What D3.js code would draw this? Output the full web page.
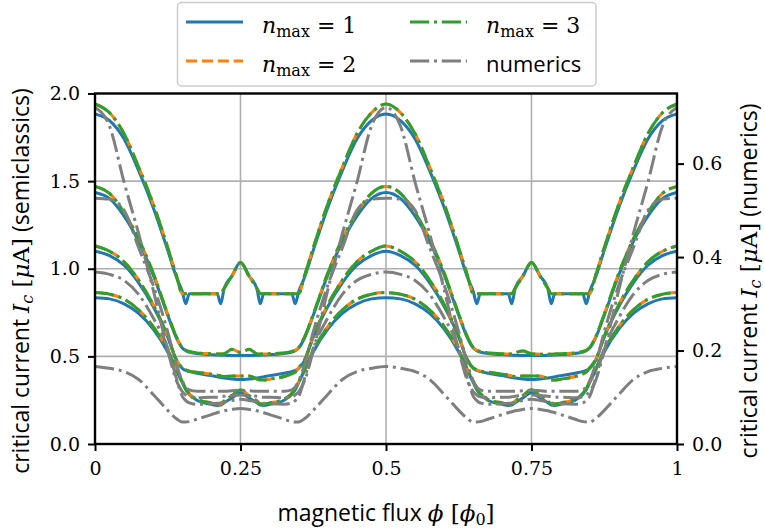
<!DOCTYPE html>
<html>
<head>
<meta charset="utf-8">
<script src="https://cdn.jsdelivr.net/npm/d3@7"></script>
<style>
  body { margin: 0; background: #fff; }
  svg { display: block; }
</style>
</head>
<body>
<svg id="chart" width="765" height="531"></svg>
<script>
// flux grid (units of phi_0)
const phi = [
  0, 0.025, 0.05, 0.075, 0.1, 0.125, 0.14, 0.15, 0.156, 0.162, 0.175, 0.2, 0.21, 0.216, 0.222, 0.235, 0.25,
  0.265, 0.278, 0.284, 0.29, 0.3, 0.325, 0.338, 0.344, 0.35, 0.36, 0.375, 0.4, 0.425, 0.45, 0.475, 0.5,
  0.525, 0.55, 0.575, 0.6, 0.625, 0.64, 0.65, 0.656, 0.662, 0.675, 0.7, 0.71, 0.716, 0.722, 0.735, 0.75,
  0.765, 0.778, 0.784, 0.79, 0.8, 0.825, 0.838, 0.844, 0.85, 0.86, 0.875, 0.9, 0.925, 0.95, 0.975, 1
];

// semiclassical critical current [uA], four junction settings, truncation n_max = 1, 2, 3
const curveA1 = [
  1.883, 1.845, 1.74, 1.56, 1.35, 1.105, 0.95, 0.87, 0.80, 0.858, 0.858, 0.858, 0.858, 0.80, 0.889, 0.957, 1.035,
  0.957, 0.889, 0.80, 0.858, 0.858, 0.858, 0.858, 0.80, 0.87, 0.95, 1.105, 1.35, 1.56, 1.74, 1.845, 1.883,
  1.845, 1.74, 1.56, 1.35, 1.105, 0.95, 0.87, 0.80, 0.858, 0.858, 0.858, 0.858, 0.80, 0.889, 0.957, 1.035,
  0.957, 0.889, 0.80, 0.858, 0.858, 0.858, 0.858, 0.80, 0.87, 0.95, 1.105, 1.35, 1.56, 1.74, 1.845, 1.883
];
const curveA2 = [
  1.94, 1.89, 1.77, 1.58, 1.37, 1.12, 0.96, 0.858, 0.858, 0.858, 0.858, 0.858, 0.858, 0.858, 0.889, 0.957, 1.035,
  0.957, 0.889, 0.858, 0.858, 0.858, 0.858, 0.858, 0.858, 0.858, 0.96, 1.12, 1.37, 1.58, 1.77, 1.89, 1.94,
  1.89, 1.77, 1.58, 1.37, 1.12, 0.96, 0.858, 0.858, 0.858, 0.858, 0.858, 0.858, 0.858, 0.889, 0.957, 1.035,
  0.957, 0.889, 0.858, 0.858, 0.858, 0.858, 0.858, 0.858, 0.858, 0.96, 1.12, 1.37, 1.58, 1.77, 1.89, 1.94
];
const curveA3 = [
  1.94, 1.89, 1.77, 1.58, 1.37, 1.12, 0.96, 0.858, 0.858, 0.858, 0.858, 0.858, 0.858, 0.858, 0.889, 0.957, 1.035,
  0.957, 0.889, 0.858, 0.858, 0.858, 0.858, 0.858, 0.858, 0.858, 0.96, 1.12, 1.37, 1.58, 1.77, 1.89, 1.94,
  1.89, 1.77, 1.58, 1.37, 1.12, 0.96, 0.858, 0.858, 0.858, 0.858, 0.858, 0.858, 0.858, 0.889, 0.957, 1.035,
  0.957, 0.889, 0.858, 0.858, 0.858, 0.858, 0.858, 0.858, 0.858, 0.96, 1.12, 1.37, 1.58, 1.77, 1.89, 1.94
];
const curveB1 = [
  1.435, 1.40, 1.30, 1.155, 0.965, 0.735, 0.605, 0.548, 0.532, 0.524, 0.516, 0.51, 0.508, 0.507, 0.506, 0.505, 0.505,
  0.505, 0.506, 0.507, 0.508, 0.51, 0.516, 0.524, 0.532, 0.548, 0.605, 0.735, 0.965, 1.155, 1.30, 1.40, 1.435,
  1.40, 1.30, 1.155, 0.965, 0.735, 0.605, 0.548, 0.532, 0.524, 0.516, 0.51, 0.508, 0.507, 0.506, 0.505, 0.505,
  0.505, 0.506, 0.507, 0.508, 0.51, 0.516, 0.524, 0.532, 0.548, 0.605, 0.735, 0.965, 1.155, 1.30, 1.40, 1.435
];
const curveB2 = [
  1.47, 1.43, 1.32, 1.17, 0.975, 0.74, 0.61, 0.55, 0.535, 0.528, 0.52, 0.515, 0.513, 0.513, 0.515, 0.54, 0.522,
  0.54, 0.515, 0.513, 0.513, 0.515, 0.52, 0.528, 0.535, 0.55, 0.61, 0.74, 0.975, 1.17, 1.32, 1.43, 1.47,
  1.43, 1.32, 1.17, 0.975, 0.74, 0.61, 0.55, 0.535, 0.528, 0.52, 0.515, 0.513, 0.513, 0.52, 0.53, 0.515,
  0.512, 0.512, 0.512, 0.513, 0.515, 0.52, 0.528, 0.535, 0.55, 0.61, 0.74, 0.975, 1.17, 1.32, 1.43, 1.47
];
const curveB3 = [
  1.47, 1.43, 1.32, 1.17, 0.975, 0.74, 0.61, 0.55, 0.535, 0.528, 0.52, 0.515, 0.513, 0.513, 0.515, 0.54, 0.522,
  0.54, 0.515, 0.513, 0.513, 0.515, 0.52, 0.528, 0.535, 0.55, 0.61, 0.74, 0.975, 1.17, 1.32, 1.43, 1.47,
  1.43, 1.32, 1.17, 0.975, 0.74, 0.61, 0.55, 0.535, 0.528, 0.52, 0.515, 0.513, 0.513, 0.52, 0.53, 0.515,
  0.512, 0.512, 0.512, 0.513, 0.515, 0.52, 0.528, 0.535, 0.55, 0.61, 0.74, 0.975, 1.17, 1.32, 1.43, 1.47
];
const curveC1 = [
  1.10, 1.075, 1.02, 0.92, 0.785, 0.61, 0.475, 0.432, 0.42, 0.413, 0.404, 0.39, 0.383, 0.379, 0.376, 0.371, 0.368,
  0.371, 0.376, 0.379, 0.383, 0.39, 0.404, 0.413, 0.42, 0.432, 0.475, 0.61, 0.785, 0.92, 1.02, 1.075, 1.10,
  1.075, 1.02, 0.92, 0.785, 0.61, 0.475, 0.432, 0.42, 0.413, 0.404, 0.39, 0.383, 0.379, 0.376, 0.371, 0.368,
  0.371, 0.376, 0.379, 0.383, 0.39, 0.404, 0.413, 0.42, 0.432, 0.475, 0.61, 0.785, 0.92, 1.02, 1.075, 1.10
];
const curveC2 = [
  1.13, 1.10, 1.04, 0.935, 0.795, 0.615, 0.48, 0.435, 0.423, 0.416, 0.41, 0.398, 0.393, 0.388, 0.385, 0.388, 0.388,
  0.388, 0.372, 0.365, 0.365, 0.37, 0.385, 0.40, 0.41, 0.435, 0.48, 0.615, 0.795, 0.935, 1.04, 1.10, 1.13,
  1.10, 1.04, 0.935, 0.795, 0.615, 0.48, 0.435, 0.423, 0.416, 0.41, 0.398, 0.393, 0.388, 0.385, 0.388, 0.388,
  0.388, 0.372, 0.365, 0.365, 0.37, 0.385, 0.40, 0.41, 0.435, 0.48, 0.615, 0.795, 0.935, 1.04, 1.10, 1.13
];
const curveC3 = [
  1.13, 1.10, 1.04, 0.935, 0.795, 0.615, 0.48, 0.435, 0.423, 0.416, 0.41, 0.398, 0.393, 0.388, 0.385, 0.388, 0.388,
  0.388, 0.372, 0.365, 0.365, 0.37, 0.385, 0.40, 0.41, 0.435, 0.48, 0.615, 0.795, 0.935, 1.04, 1.10, 1.13,
  1.10, 1.04, 0.935, 0.795, 0.615, 0.48, 0.435, 0.423, 0.416, 0.41, 0.398, 0.393, 0.388, 0.385, 0.388, 0.388,
  0.388, 0.372, 0.365, 0.365, 0.37, 0.385, 0.40, 0.41, 0.435, 0.48, 0.615, 0.795, 0.935, 1.04, 1.10, 1.13
];
const curveD1 = [
  0.835, 0.828, 0.80, 0.745, 0.655, 0.525, 0.42, 0.35, 0.31, 0.283, 0.25, 0.226, 0.22, 0.222, 0.235, 0.262, 0.292,
  0.262, 0.235, 0.222, 0.22, 0.226, 0.25, 0.283, 0.31, 0.35, 0.42, 0.525, 0.655, 0.745, 0.80, 0.828, 0.835,
  0.828, 0.80, 0.745, 0.655, 0.525, 0.42, 0.35, 0.31, 0.283, 0.25, 0.226, 0.22, 0.222, 0.235, 0.262, 0.292,
  0.262, 0.235, 0.222, 0.22, 0.226, 0.25, 0.283, 0.31, 0.35, 0.42, 0.525, 0.655, 0.745, 0.80, 0.828, 0.835
];
const curveD2 = [
  0.864, 0.855, 0.826, 0.765, 0.67, 0.535, 0.425, 0.355, 0.315, 0.288, 0.255, 0.234, 0.228, 0.229, 0.245, 0.275, 0.31,
  0.275, 0.245, 0.229, 0.228, 0.234, 0.255, 0.288, 0.315, 0.355, 0.425, 0.535, 0.67, 0.765, 0.826, 0.855, 0.864,
  0.855, 0.826, 0.765, 0.67, 0.535, 0.425, 0.355, 0.315, 0.288, 0.255, 0.234, 0.228, 0.229, 0.245, 0.275, 0.31,
  0.275, 0.245, 0.229, 0.228, 0.234, 0.255, 0.288, 0.315, 0.355, 0.425, 0.535, 0.67, 0.765, 0.826, 0.855, 0.864
];
const curveD3 = [
  0.864, 0.855, 0.826, 0.765, 0.67, 0.535, 0.425, 0.355, 0.315, 0.288, 0.255, 0.234, 0.228, 0.229, 0.245, 0.275, 0.31,
  0.275, 0.245, 0.229, 0.228, 0.234, 0.255, 0.288, 0.315, 0.355, 0.425, 0.535, 0.67, 0.765, 0.826, 0.855, 0.864,
  0.855, 0.826, 0.765, 0.67, 0.535, 0.425, 0.355, 0.315, 0.288, 0.255, 0.234, 0.228, 0.229, 0.245, 0.275, 0.31,
  0.275, 0.245, 0.229, 0.228, 0.234, 0.255, 0.288, 0.315, 0.355, 0.425, 0.535, 0.67, 0.765, 0.826, 0.855, 0.864
];

// numerical critical current [uA] for the same four settings (right axis)
const numA = [
  0.72, 0.68, 0.56, 0.45, 0.33, 0.2, 0.135, 0.112, 0.105, 0.101, 0.099, 0.1, 0.1, 0.101, 0.102, 0.104, 0.105,
  0.104, 0.102, 0.101, 0.1, 0.1, 0.099, 0.101, 0.105, 0.112, 0.135, 0.2, 0.33, 0.45, 0.56, 0.68, 0.72,
  0.68, 0.56, 0.45, 0.33, 0.2, 0.135, 0.112, 0.105, 0.101, 0.099, 0.1, 0.1, 0.101, 0.102, 0.104, 0.105,
  0.104, 0.102, 0.101, 0.1, 0.1, 0.099, 0.101, 0.105, 0.112, 0.135, 0.2, 0.33, 0.45, 0.56, 0.68, 0.72
];
const numB = [
  0.526, 0.524, 0.5, 0.42, 0.34, 0.24, 0.17, 0.135, 0.122, 0.116, 0.113, 0.113, 0.113, 0.113, 0.113, 0.114, 0.115,
  0.114, 0.113, 0.113, 0.113, 0.113, 0.113, 0.116, 0.122, 0.135, 0.17, 0.24, 0.34, 0.42, 0.5, 0.524, 0.526,
  0.524, 0.5, 0.42, 0.34, 0.24, 0.17, 0.135, 0.122, 0.116, 0.113, 0.113, 0.113, 0.113, 0.113, 0.114, 0.115,
  0.114, 0.113, 0.113, 0.113, 0.113, 0.113, 0.116, 0.122, 0.135, 0.17, 0.24, 0.34, 0.42, 0.5, 0.524, 0.526
];
const numC = [
  0.368, 0.363, 0.35, 0.32, 0.27, 0.205, 0.14, 0.102, 0.093, 0.088, 0.085, 0.086, 0.087, 0.088, 0.09, 0.093, 0.096,
  0.093, 0.09, 0.088, 0.087, 0.086, 0.085, 0.088, 0.093, 0.102, 0.14, 0.205, 0.27, 0.32, 0.35, 0.363, 0.368,
  0.363, 0.35, 0.32, 0.27, 0.205, 0.14, 0.102, 0.093, 0.088, 0.085, 0.086, 0.087, 0.088, 0.09, 0.093, 0.096,
  0.093, 0.09, 0.088, 0.087, 0.086, 0.085, 0.088, 0.093, 0.102, 0.14, 0.205, 0.27, 0.32, 0.35, 0.363, 0.368
];
const numD = [
  0.166, 0.162, 0.155, 0.138, 0.106, 0.072, 0.054, 0.047, 0.047, 0.048, 0.053, 0.063, 0.067, 0.069, 0.071, 0.074, 0.076,
  0.074, 0.071, 0.069, 0.067, 0.063, 0.053, 0.048, 0.047, 0.047, 0.054, 0.072, 0.106, 0.138, 0.155, 0.162, 0.166,
  0.162, 0.155, 0.138, 0.106, 0.072, 0.054, 0.047, 0.047, 0.048, 0.053, 0.063, 0.067, 0.069, 0.071, 0.074, 0.076,
  0.074, 0.071, 0.069, 0.067, 0.063, 0.053, 0.048, 0.047, 0.047, 0.054, 0.072, 0.106, 0.138, 0.155, 0.162, 0.166
];

const xTicks = [0, 0.25, 0.5, 0.75, 1];
const xTickLabels = ["0", "0.25", "0.5", "0.75", "1"];
const yLeftTicks = [0, 0.5, 1.0, 1.5, 2.0];
const yRightTicks = [0, 0.2, 0.4, 0.6];

const colors = { n1: "#1f77b4", n2: "#ff7f0e", n3: "#2ca02c", num: "#7f7f7f" };
const LW = 3;
const dashed = `${3.7 * LW},${1.6 * LW}`;
const dashdot = `${6.4 * LW},${1.6 * LW},${1 * LW},${1.6 * LW}`;

const svg = d3.select("#chart");
const plotLeft = 95, plotRight = 677, plotTop = 93.5, plotBottom = 444;

const x = d3.scaleLinear().domain([0, 1]).range([plotLeft, plotRight]);
const yL = d3.scaleLinear().domain([0, 2]).range([plotBottom, plotTop]);
const yR = d3.scaleLinear().domain([0, 0.75]).range([plotBottom, plotTop]);

svg.append("rect").attr("width", 765).attr("height", 531).attr("fill", "#fff");

// grid
const grid = svg.append("g").attr("stroke", "#b0b0b0").attr("stroke-width", 1.6);
xTicks.slice(1, -1).forEach(t => grid.append("line")
  .attr("x1", x(t)).attr("x2", x(t)).attr("y1", plotTop).attr("y2", plotBottom));
yLeftTicks.slice(1, -1).forEach(t => grid.append("line")
  .attr("x1", plotLeft).attr("x2", plotRight).attr("y1", yL(t)).attr("y2", yL(t)));

svg.append("clipPath").attr("id", "plotclip").append("rect")
  .attr("x", plotLeft).attr("y", plotTop).attr("width", plotRight - plotLeft).attr("height", plotBottom - plotTop);

const plot = svg.append("g").attr("clip-path", "url(#plotclip)");

function draw(values, yScale, color, dash) {
  const line = d3.line()
    .x((d, i) => x(phi[i]))
    .y(d => yScale(d))
    .curve(d3.curveMonotoneX);
  plot.append("path")
    .attr("d", line(values))
    .attr("fill", "none")
    .attr("stroke", color)
    .attr("stroke-width", LW)
    .attr("stroke-linejoin", "round")
    .attr("stroke-dasharray", dash);
}

[[curveA1, curveA2, curveA3], [curveB1, curveB2, curveB3],
 [curveC1, curveC2, curveC3], [curveD1, curveD2, curveD3]].forEach(([c1, c2, c3]) => {
  draw(c1, yL, colors.n1, null);
  draw(c2, yL, colors.n2, dashed);
  draw(c3, yL, colors.n3, dashdot);
});
[numA, numB, numC, numD].forEach(v => draw(v, yR, colors.num, dashdot));

// axes
const tickFont = "DejaVu Serif";
function styleAxis(g) {
  g.select(".domain").remove();
  g.selectAll(".tick line").attr("stroke", "#000").attr("stroke-width", 2);
  g.selectAll(".tick text").attr("font-family", tickFont).attr("font-size", 19).attr("fill", "#000");
}
svg.append("g").attr("transform", `translate(0,${plotBottom})`)
  .call(d3.axisBottom(x).tickValues(xTicks).tickFormat((d, i) => xTickLabels[i]).tickSize(7).tickPadding(11))
  .call(styleAxis);
svg.append("g").attr("transform", `translate(${plotLeft},0)`)
  .call(d3.axisLeft(yL).tickValues(yLeftTicks).tickFormat(d3.format(".1f")).tickSize(7).tickPadding(8))
  .call(styleAxis);
svg.append("g").attr("transform", `translate(${plotRight},0)`)
  .call(d3.axisRight(yR).tickValues(yRightTicks).tickFormat(d3.format(".1f")).tickSize(7).tickPadding(8))
  .call(styleAxis);

svg.append("rect").attr("x", plotLeft).attr("y", plotTop)
  .attr("width", plotRight - plotLeft).attr("height", plotBottom - plotTop)
  .attr("fill", "none").attr("stroke", "#000").attr("stroke-width", 2.4);

// axis labels
const sans = "Open Sans";
const mathFont = "DejaVu Serif";
const labelSize = 23, subSize = 16;
function currentLabel(g, tail) {
  g.append("tspan").text("critical current ");
  g.append("tspan").attr("font-family", mathFont).attr("font-style", "italic").text("I");
  g.append("tspan").attr("font-family", mathFont).attr("font-style", "italic")
    .attr("font-size", subSize).attr("dy", 4).text("c");
  g.append("tspan").attr("font-family", mathFont).attr("dy", -4).text(" [");
  g.append("tspan").attr("font-family", mathFont).attr("font-style", "italic").text("μ");
  g.append("tspan").attr("font-family", mathFont).text("A]");
  g.append("tspan").text(" " + tail);
}
svg.append("text")
  .attr("transform", "translate(29,281) rotate(-90)")
  .attr("text-anchor", "middle").attr("font-family", sans).attr("font-size", labelSize)
  .call(currentLabel, "(semiclassics)");
svg.append("text")
  .attr("transform", "translate(757,281) rotate(-90)")
  .attr("text-anchor", "middle").attr("font-family", sans).attr("font-size", labelSize)
  .call(currentLabel, "(numerics)");

const xl = svg.append("text")
  .attr("x", (plotLeft + plotRight) / 2).attr("y", 521)
  .attr("text-anchor", "middle").attr("font-family", sans).attr("font-size", labelSize);
xl.append("tspan").text("magnetic flux ");
xl.append("tspan").attr("font-family", mathFont).attr("font-style", "italic").text("ϕ");
xl.append("tspan").attr("font-family", mathFont).text(" [");
xl.append("tspan").attr("font-family", mathFont).attr("font-style", "italic").text("ϕ");
xl.append("tspan").attr("font-family", mathFont).attr("font-size", subSize).attr("dy", 4).text("0");
xl.append("tspan").attr("font-family", mathFont).attr("dy", -4).text("]");

// legend
const legendSize = 22;
const legend = svg.append("g");
legend.append("rect").attr("x", 177.5).attr("y", 2.5).attr("width", 418.5).attr("height", 83.5)
  .attr("rx", 4).attr("fill", "#fff").attr("fill-opacity", 0.8)
  .attr("stroke", "#cccccc").attr("stroke-width", 1.5);

const legendItems = [
  { color: colors.n1, dash: null, label: "1", x: 186, y: 22 },
  { color: colors.n2, dash: dashed, label: "2", x: 186, y: 61 },
  { color: colors.n3, dash: dashdot, label: "3", x: 410, y: 22 },
  { color: colors.num, dash: dashdot, label: null, x: 410, y: 61 }
];
legendItems.forEach(it => {
  legend.append("line").attr("x1", it.x).attr("x2", it.x + 57).attr("y1", it.y).attr("y2", it.y)
    .attr("stroke", it.color).attr("stroke-width", LW).attr("stroke-dasharray", it.dash);
  const t = legend.append("text").attr("x", it.x + 76).attr("y", it.y + 11)
    .attr("font-size", legendSize).attr("font-family", mathFont);
  if (it.label === null) {
    t.attr("font-family", sans).text("numerics");
  } else {
    t.append("tspan").attr("font-style", "italic").text("n");
    t.append("tspan").attr("font-size", subSize).attr("dy", 4).text("max");
    t.append("tspan").attr("dy", -4).text(" = " + it.label);
  }
});
</script>
</body>
</html>
